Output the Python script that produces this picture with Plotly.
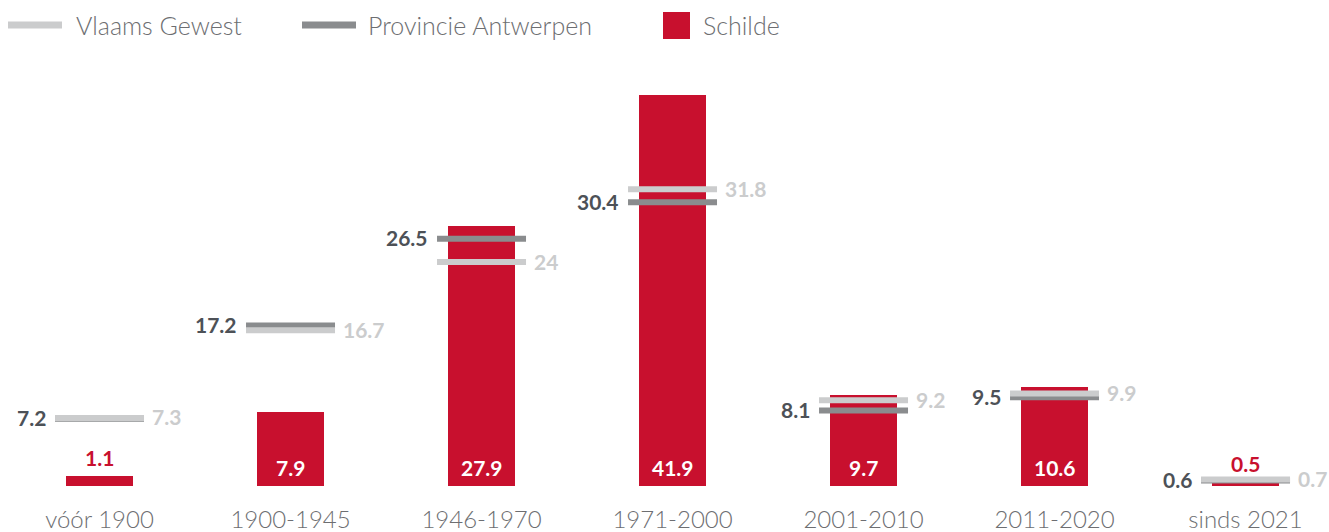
import plotly.graph_objects as go

# Share of housing stock by construction period (%)
categories = ["vóór 1900", "1900-1945", "1946-1970", "1971-2000",
              "2001-2010", "2011-2020", "sinds 2021"]
schilde = [1.1, 7.9, 27.9, 41.9, 9.7, 10.6, 0.5]
provincie = [7.2, 17.2, 26.5, 30.4, 8.1, 9.5, 0.6]
vlaams = [7.3, 16.7, 24, 31.8, 9.2, 9.9, 0.7]

RED = "#c8102e"
LIGHT = "#cbcccd"
DARK = "#8a8c8e"
DARK_TXT = "#4d5157"
AXIS_TXT = "#6d6e71"
FONT = "Lato"

W, H = 1329, 532
M_BOTTOM = 46
PLOT_H = H - M_BOTTOM
Y_MAX = 52.08
LINE_PX = 89          # visible length of the marker lines
MARK_SIZE = LINE_PX / 1.4   # plotly scales line-ew by 1.4 * size / 2


def fmt(v):
    return f"{v:g}"


fig = go.Figure()

fig.add_trace(go.Bar(
    x=categories, y=schilde, name="Schilde",
    marker=dict(color=RED, line=dict(width=0)),
    width=0.352, showlegend=False, hoverinfo="skip",
))

for name, vals, col in [("Provincie Antwerpen", provincie, DARK),
                        ("Vlaams Gewest", vlaams, LIGHT)]:
    fig.add_trace(go.Scatter(
        x=categories, y=vals, name=name, mode="markers",
        marker=dict(symbol="line-ew", size=MARK_SIZE, color=col,
                    line=dict(width=6, color=col)),
        cliponaxis=False, showlegend=False, hoverinfo="skip",
    ))

annotations = []
lab_font = dict(family=FONT, size=21, weight="bold")
half = LINE_PX / 2
for c, s, p, v in zip(categories, schilde, provincie, vlaams):
    # provincial value, left of the marker line
    annotations.append(dict(
        x=c, y=p, text=fmt(p), showarrow=False, xanchor="right",
        yanchor="middle", xshift=-(half + 7), yshift=1,
        font=dict(lab_font, color=DARK_TXT)))
    # regional value, right of the marker line
    annotations.append(dict(
        x=c, y=v, text=fmt(v), showarrow=False, xanchor="left",
        yanchor="middle", xshift=half + 6, yshift=1,
        font=dict(lab_font, color=LIGHT)))
    # municipal value: inside the bar when tall enough, otherwise above
    if s >= 5:
        annotations.append(dict(
            x=c, y=0, text=fmt(s), showarrow=False, xanchor="center",
            yanchor="middle", yshift=19,
            font=dict(lab_font, color="white")))
    else:
        annotations.append(dict(
            x=c, y=s, text=fmt(s), showarrow=False, xanchor="center",
            yanchor="middle", yshift=18,
            font=dict(lab_font, color=RED)))


# Custom legend drawn in paper space (pixel -> paper helpers)
def px(x):
    return x / W


def py(y):
    return (PLOT_H - y) / PLOT_H


shapes = [
    dict(type="line", xref="paper", yref="paper", x0=px(8), x1=px(62),
         y0=py(25), y1=py(25), line=dict(color=LIGHT, width=7)),
    dict(type="line", xref="paper", yref="paper", x0=px(302), x1=px(356),
         y0=py(25), y1=py(25), line=dict(color=DARK, width=7)),
    dict(type="rect", xref="paper", yref="paper", x0=px(663), x1=px(690),
         y0=py(39), y1=py(12), fillcolor=RED, line=dict(width=0)),
]
leg_font = dict(family=FONT, size=25, color=AXIS_TXT, weight=300)
for label, xpos in [("Vlaams Gewest", 74), ("Provincie Antwerpen", 366),
                    ("Schilde", 701)]:
    annotations.append(dict(
        xref="paper", yref="paper", x=px(xpos), y=py(25), text=label,
        showarrow=False, xanchor="left", yanchor="middle", font=leg_font))

fig.update_layout(
    width=W, height=H,
    margin=dict(l=0, r=0, t=0, b=M_BOTTOM),
    paper_bgcolor="white", plot_bgcolor="white",
    bargap=0, barmode="overlay",
    annotations=annotations, shapes=shapes,
    xaxis=dict(
        type="category", range=[-0.521, 6.437],
        showgrid=False, zeroline=False, showline=False, ticks="",
        tickfont=dict(family=FONT, size=24, color=AXIS_TXT, weight=300),
        ticklabelstandoff=17,
    ),
    yaxis=dict(range=[0, Y_MAX], visible=False, showgrid=False,
               zeroline=False),
)

fig.write_html("out.html")
